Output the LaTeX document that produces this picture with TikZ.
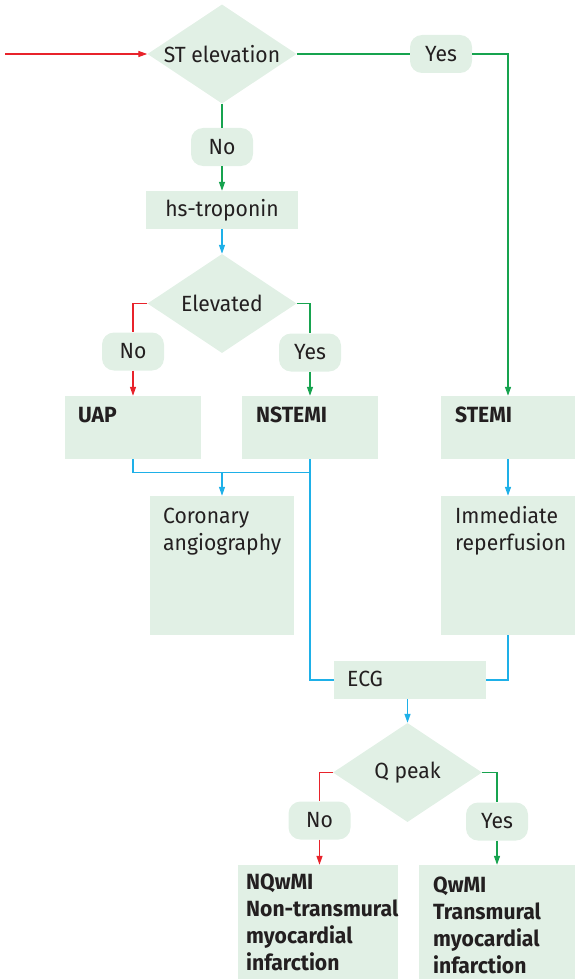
\documentclass[tikz,border=0pt]{standalone}
\usepackage{fontspec}
\setmainfont{Fira Sans}[FakeStretch=0.96]
\usetikzlibrary{shapes.geometric,arrows.meta,calc}
\definecolor{boxfill}{HTML}{E1F0E5}
\definecolor{lnred}{HTML}{E8232B}
\definecolor{lngreen}{HTML}{17A34F}
\definecolor{lnblue}{HTML}{1EB0E8}
\definecolor{ink}{HTML}{231F20}
\begin{document}
\begin{tikzpicture}[x=1pt,y=-1pt,
  txt/.style={font=\fontsize{22}{27}\selectfont, text=ink},
  panel/.style={rectangle, fill=boxfill, inner sep=0pt, txt},
  pill/.style={rectangle, rounded corners=12pt, fill=boxfill, inner sep=0pt,
    minimum width=62pt, minimum height=38pt, txt},
  decision/.style={diamond, aspect=1.5, fill=boxfill, inner sep=0pt,
    minimum width=149pt, minimum height=99pt, txt},
  caption/.style={anchor=base west, inner sep=0pt, align=left, txt},
  heading/.style={caption, font=\fontsize{22}{27}\selectfont\bfseries},
  conn/.style={line width=1.3pt},
  arr/.style={conn, -{Triangle[length=9pt,width=6pt]}},
]
\useasboundingbox (0,0) rectangle (575,979);

% decisions
\node[decision] (st) at (222,54) {ST elevation};
\node[decision] (el) at (222,303.5) {Elevated};
\node[decision] (qp) at (407.5,772.5) {Q peak};

% yes / no labels
\node[pill] (yesST) at (441,54) {Yes};
\node[pill] (noST) at (222,147) {No};
\node[pill] (noEl) at (133,351.5) {No};
\node[pill] (yesEl) at (310,352.5) {Yes};
\node[pill] (noQ) at (319.5,820.5) {No};
\node[pill] (yesQ) at (497,821.5) {Yes};

% boxes
\node[panel, minimum width=152pt, minimum height=38pt] (hs) at (222,210) {hs-troponin};
\node[panel, minimum width=136pt, minimum height=63pt] (uap) at (133,427.5) {};
\node[panel, minimum width=136pt, minimum height=63pt] (nstemi) at (310,427.5) {};
\node[panel, minimum width=134pt, minimum height=63pt] (stemi) at (508,427.5) {};
\node[panel, minimum width=144pt, minimum height=139pt] (cor) at (222,565.5) {};
\node[panel, minimum width=134pt, minimum height=139pt] (imm) at (508,565.5) {};
\node[panel, minimum width=152pt, minimum height=38pt] (ecg) at (410,680) {};
\node[panel, minimum width=160pt, minimum height=114pt] (nq) at (318,922) {};
\node[panel, minimum width=156pt, minimum height=114pt] (qw) at (497,922) {};

% box texts (multi-line texts are placed by the baseline of their last line)
\node[heading] (uapT) at (78,422) {UAP};
\node[heading] (nstemiT) at (256,422) {NSTEMI};
\node[heading] (stemiT) at (455,422) {STEMI};
\node[caption] (corT) at (163,550) {Coronary\\angiography};
\node[caption] (immT) at (455,550) {Immediate\\reperfusion};
\node[caption] (ecgT) at (347,686) {ECG};
\node[heading] (nqT) at (246,970) {NQwMI\\Non-transmural\\myocardial\\infarction};
\node[heading] (qwT) at (433,973) {QwMI\\Transmural\\myocardial\\infarction};

% entry
\coordinate (entry) at (5,54);
\draw[arr, lnred] (entry) -- (st.west);

% ST elevation branches
\draw[conn, lngreen] (st.east) -- (yesST.west);
\draw[arr, lngreen] (yesST.east) -| (stemi.north);
\draw[conn, lngreen] (st.south) -- (noST.north);
\draw[arr, lngreen] (noST.south) -- (hs.north);
\draw[arr, lnblue] (hs.south) -- (el.north);

% Elevated branches
\draw[conn, lnred] (el.west) -| (noEl.north);
\draw[arr, lnred] (noEl.south) -- (noEl.south |- uap.north);
\draw[conn, lngreen] (el.east) -| (yesEl.north);
\draw[arr, lngreen] (yesEl.south) -- (yesEl.south |- nstemi.north);

% to angiography and ECG
\coordinate (bus) at ($(uap.south)+(0,13)$);
\draw[conn, lnblue] (uap.south) -- (bus) -| (nstemi.south);
\draw[arr, lnblue] (bus -| cor.north) -- (cor.north);
\draw[conn, lnblue] (nstemi.south) |- (ecg.west);
\draw[arr, lnblue] (stemi.south) -- (imm.north);
\draw[conn, lnblue] (imm.south) |- (ecg.east);
\draw[arr, lnblue] (ecg.south -| qp.north) -- (qp.north);

% Q peak branches
\draw[conn, lnred] (qp.west) -| (noQ.north);
\draw[arr, lnred] (noQ.south) -- (noQ.south |- nq.north);
\draw[conn, lngreen] (qp.east) -| (yesQ.north);
\draw[arr, lngreen] (yesQ.south) -- (yesQ.south |- qw.north);
\end{tikzpicture}
\end{document}
